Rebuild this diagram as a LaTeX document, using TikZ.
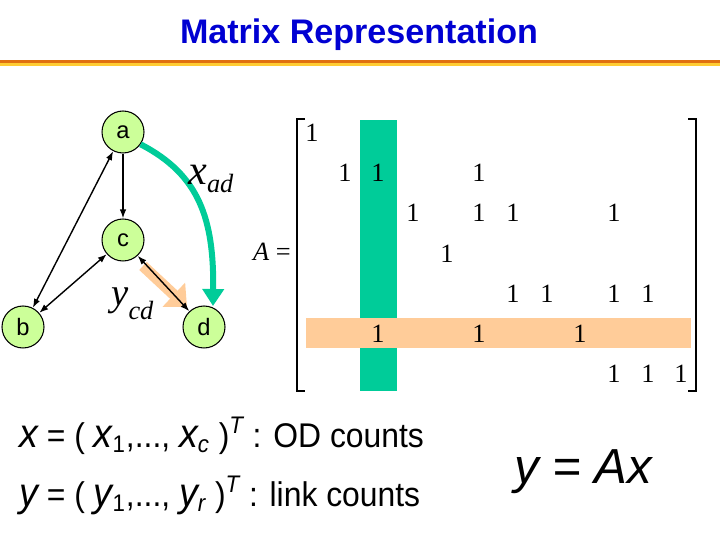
\documentclass[tikz,border=0pt]{standalone}
\usepackage{fontspec}
\setmainfont{Liberation Serif}
\setsansfont{Liberation Sans}
\newfontfamily\eqfont[FakeStretch=0.93]{Liberation Sans}
\usepackage{xcolor}
\usepackage{tikz}
\usetikzlibrary{arrows.meta}
\definecolor{titleblue}{RGB}{0,0,210}
\definecolor{barorange}{RGB}{224,112,16}
\definecolor{baryellow}{RGB}{255,204,51}
\definecolor{nodegreen}{RGB}{204,255,153}
\definecolor{odgreen}{RGB}{0,204,153}
\definecolor{linkpeach}{RGB}{255,204,153}
\newcommand{\eqvar}[1]{{\fontsize{23}{23}\selectfont\itshape #1}}

\begin{document}
\begin{tikzpicture}[x=0.02cm,y=-0.02cm,
  site/.style={circle,draw,line width=0.6pt,fill=nodegreen,minimum size=0.84cm,inner sep=0pt,font=\sffamily\fontsize{13.5}{13.5}\selectfont},
  link/.style={line width=0.8pt,>={Latex[length=1.8mm,width=1.3mm]}},
  one/.style={inner sep=0pt,font=\fontsize{15}{15}\selectfont}]
  \useasboundingbox (0,0) rectangle (720,540);
  \node[anchor=base,text=titleblue,font=\sffamily\bfseries\fontsize{19.4}{19.4}\selectfont] (title) at (359,44) {Matrix Representation};
  \fill[barorange] (0,60) rectangle (720,63.5);
  \fill[baryellow] (0,63.5) rectangle (720,66);
  % network
  \node[site] (a) at (123,132) {a};
  \node[site] (c) at (123,240) {c};
  \node[site] (b) at (23,327) {b};
  \node[site] (d) at (204,327) {d};
  \coordinate (ycdtail) at (143,266);
  \coordinate (ycdhead) at (187,307);
  \coordinate (xadend) at (213,306);
  \draw[linkpeach,line width=2.2mm,-{Triangle[length=3.6mm,width=6.4mm]}] (ycdtail) -- (ycdhead);
  \draw[odgreen,line width=1.2mm,-{Triangle[length=3.4mm,width=4.2mm]}] (a.-35) .. controls (200,175) and (214,220) .. (xadend);
  \draw[link,->] (a) -- (c);
  \draw[link,<->] (a) -- (b);
  \draw[link,<->] (b) -- (c);
  \draw[link,<->] (c) -- (d);
  \node[anchor=base west,inner sep=0pt,font=\fontsize{24}{24}\selectfont] (xad) at (188,185) {\textit{x}\raisebox{-4.5pt}{\fontsize{15}{15}\selectfont\textit{ad}}};
  \node[anchor=base west,inner sep=0pt,font=\fontsize{22}{22}\selectfont] (ycd) at (111,306) {\textit{y}\raisebox{-7.5pt}{\fontsize{15}{15}\selectfont\textit{cd}}};
  % matrix A
  \fill[odgreen] (360,120) rectangle (397,391);
  \fill[linkpeach] (306,318) rectangle (691,348);
  \draw[line width=0.8pt] (305,119) -- (297,119) -- (297,391) -- (305,391);
  \draw[line width=0.8pt] (688,119) -- (696,119) -- (696,391) -- (688,391);
  \node[anchor=base east,inner sep=0pt,font=\fontsize{15}{15}\selectfont] (Aeq) at (291,261) {\textit{A} =};
  \node[one] at (312,133) {1};
  \node[one] at (345,173) {1}; \node[one] at (378,173) {1}; \node[one] at (479,173) {1};
  \node[one] at (413,213) {1}; \node[one] at (479,213) {1}; \node[one] at (513,213) {1}; \node[one] at (614,213) {1};
  \node[one] at (447,254) {1};
  \node[one] at (513,294) {1}; \node[one] at (547,294) {1}; \node[one] at (614,294) {1}; \node[one] at (648,294) {1};
  \node[one] at (378,334) {1}; \node[one] at (479,334) {1}; \node[one] at (580,334) {1};
  \node[one] at (614,374) {1}; \node[one] at (648,374) {1}; \node[one] at (681,374) {1};
  % equations
  \node[anchor=base west,inner sep=0pt,font=\eqfont\fontsize{19.5}{19.5}\selectfont] (xdef) at (19,447)
    {\eqvar{x} = ( \eqvar{x}\textsubscript{1},..., \eqvar{x}\textsubscript{\itshape c} )\textsuperscript{\itshape T} : OD counts};
  \node[anchor=base west,inner sep=0pt,font=\eqfont\fontsize{19.5}{19.5}\selectfont] (ydef) at (19,506)
    {\eqvar{y} = ( \eqvar{y}\textsubscript{1},..., \eqvar{y}\textsubscript{\itshape r} )\textsuperscript{\itshape T} : link counts};
  \node[anchor=base west,inner sep=0pt,font=\sffamily\fontsize{28}{28}\selectfont] (yax) at (514,483) {\itshape y = Ax};
\end{tikzpicture}
\end{document}
